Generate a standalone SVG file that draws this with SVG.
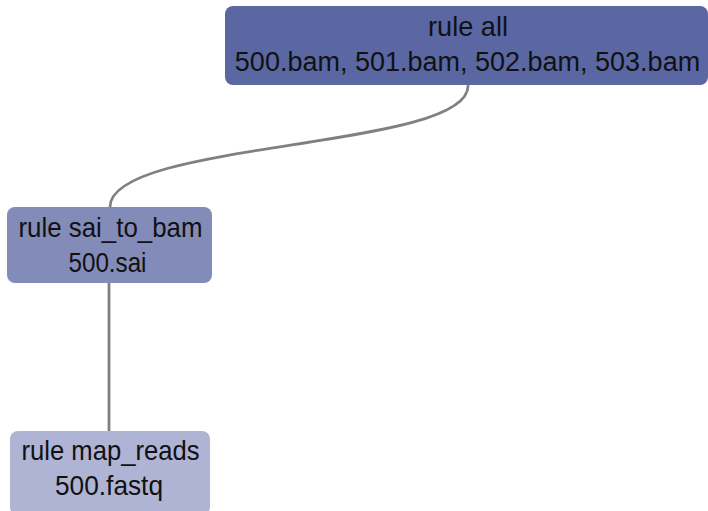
<svg xmlns="http://www.w3.org/2000/svg" width="708" height="511" viewBox="0 0 708 511">
  <style>
    .box { stroke: none; }
    .lbl { font-family: "Liberation Sans", "DejaVu Sans", sans-serif; font-size: 28px; fill: #111111; text-anchor: middle; }
    .wide { font-size: 27px; }
    .edge { fill: none; stroke: #808080; stroke-width: 2.8; stroke-linecap: round; }
  </style>
  <rect width="708" height="511" fill="#ffffff"/>

  <g id="edges">
    <path class="edge" d="M468,86 C468,150 110,140 110,207"/>
    <path class="edge" d="M109,283 L109,431"/>
  </g>

  <g id="node-all">
    <rect class="box" x="225" y="6" width="483" height="79" rx="8" fill="#5a67a3"/>
    <text class="lbl" x="468" y="36" textLength="80" lengthAdjust="spacingAndGlyphs">rule all</text>
    <text class="lbl wide" x="467.5" y="71">500.bam, 501.bam, 502.bam, 503.bam</text>
  </g>

  <g id="node-sai_to_bam">
    <rect class="box" x="7" y="207" width="205" height="76" rx="8" fill="#838bb8"/>
    <text class="lbl" x="110.5" y="237" textLength="184" lengthAdjust="spacingAndGlyphs">rule sai_to_bam</text>
    <text class="lbl" x="107.5" y="272" textLength="78" lengthAdjust="spacingAndGlyphs">500.sai</text>
  </g>

  <g id="node-map_reads">
    <rect class="box" x="10" y="431" width="200" height="84" rx="8" fill="#afb3d4"/>
    <text class="lbl" x="110.5" y="460" textLength="178" lengthAdjust="spacingAndGlyphs">rule map_reads</text>
    <text class="lbl" x="109" y="495" textLength="108" lengthAdjust="spacingAndGlyphs">500.fastq</text>
  </g>
</svg>
